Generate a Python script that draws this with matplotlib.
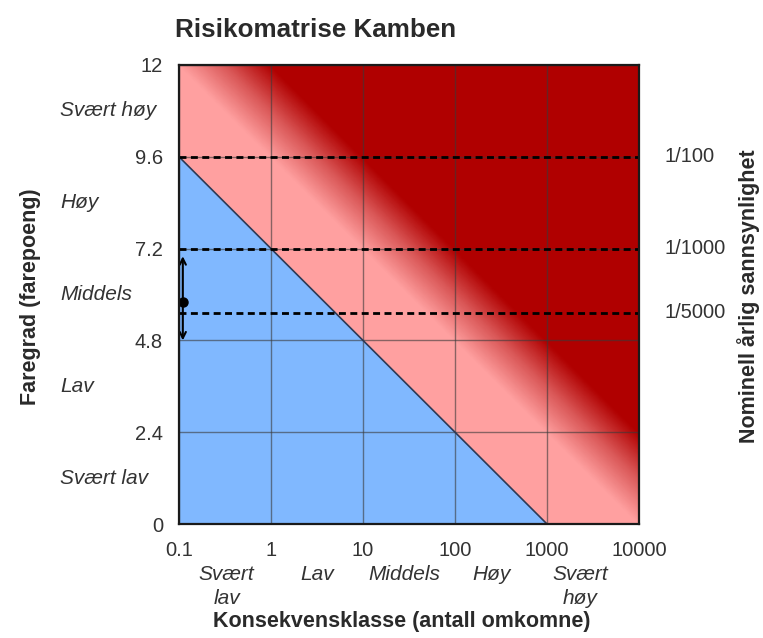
import numpy as np
import matplotlib
matplotlib.use('Agg')
import matplotlib.pyplot as plt
from matplotlib.colors import LinearSegmentedColormap
from matplotlib.ticker import NullLocator
import matplotlib.transforms as mtransforms

plt.rcParams['font.family'] = ['Liberation Sans', 'DejaVu Sans']

# ---------------- data ----------------
title = "Risikomatrise Kamben"
x_decades = [0.1, 1, 10, 100, 1000, 10000]
x_tick_labels = ["0.1", "1", "10", "100", "1000", "10000"]
x_categories = ["Svært\nlav", "Lav", "Middels", "Høy", "Svært\nhøy"]
x_category_pos = [0.33, 3.2, 28, 250, 2300]

y_ticks = [0, 2.4, 4.8, 7.2, 9.6, 12]
y_tick_labels = ["0", "2.4", "4.8", "7.2", "9.6", "12"]
y_categories = ["Svært lav", "Lav", "Middels", "Høy", "Svært høy"]
y_category_pos = [1.2, 3.6, 6.0, 8.4, 10.8]

prob_labels = ["1/100", "1/1000", "1/5000"]
prob_levels = [9.6, 7.2, 5.52]

# acceptance boundary (straight line in log-x)
boundary_x = [0.1, 1000]
boundary_y = [9.6, 0.0]
# gradient band levels (value of the line at x = 1)
gradient_start_level = 9.6
gradient_end_level = 12.0

# assessed point with uncertainty range
point_x = 0.11
point_y = 5.8
range_low = 4.8
range_high = 7.0

xlabel = "Konsekvensklasse (antall omkomne)"
ylabel = "Faregrad (farepoeng)"
rlabel = "Nominell årlig sannsynlighet"

# ---------------- colours ----------------
blue = "#80b8ff"
pink = "#ffa0a0"
dark_red = "#b00000"
text_col = "#2a2a2a"

W, H = 763, 638
fig = plt.figure(figsize=(W / 100, H / 100), dpi=100)
ax = fig.add_axes([179 / W, 1 - 524 / H, 460 / W, 459 / H])
ax.set_xscale('log')
ax.set_xlim(x_decades[0], x_decades[-1])
ax.set_ylim(y_ticks[0], y_ticks[-1])

# slope of boundary (y units per decade)
slope = (boundary_y[0] - boundary_y[1]) / (np.log10(boundary_x[1]) - np.log10(boundary_x[0]))

# gradient background (pink -> dark red)
u = np.linspace(np.log10(x_decades[0]), np.log10(x_decades[-1]), 401)
yy = np.linspace(y_ticks[0], y_ticks[-1], 401)
U, Y = np.meshgrid(u, yy)
D = Y + slope * U
T = np.clip((D - gradient_start_level) / (gradient_end_level - gradient_start_level), 0, 1)
cmap = LinearSegmentedColormap.from_list("risk", [pink, "#da5858", dark_red])
ax.pcolormesh(10 ** U, Y, T, cmap=cmap, vmin=0, vmax=1, shading='gouraud', zorder=0)

# acceptable (blue) region
ax.fill_between(boundary_x, boundary_y, 0, color=blue, lw=0, zorder=1)
ax.plot(boundary_x, boundary_y, color="#2d3a55", lw=1.2, zorder=3)

# grid
ax.xaxis.set_minor_locator(NullLocator())
ax.set_xticks(x_decades)
ax.set_xticklabels(x_tick_labels)
ax.set_yticks(y_ticks)
ax.set_yticklabels(y_tick_labels)
ax.set_axisbelow(False)
ax.grid(True, color="#3a3a3a", alpha=0.6, lw=1.0)
ax.tick_params(length=0, labelsize=14.5, labelcolor="#333333")
ax.tick_params(axis='x', pad=12)
ax.tick_params(axis='y', pad=11.5)

# dashed probability lines
for lv in prob_levels:
    ax.axhline(lv, color="black", lw=2.0, ls=(0, (2.5, 1.6)), zorder=4)

# right side probability labels
trans_r = mtransforms.blended_transform_factory(ax.transAxes, ax.transData)
for lab, lv in zip(prob_labels, prob_levels):
    ax.text(1 + 26 / 460, lv, lab, transform=trans_r, ha='left', va='center',
            fontsize=14.5, color="#333333")

# left side category labels
for lab, pos in zip(y_categories, y_category_pos):
    ax.text(-119 / 460, pos, lab, transform=trans_r, ha='left', va='center',
            fontsize=15, style='italic', color="#333333")

# bottom category labels
trans_b = mtransforms.blended_transform_factory(ax.transData, ax.transAxes)
for lab, pos in zip(x_categories, x_category_pos):
    ax.text(pos, -41 / 459, lab, transform=trans_b, ha='center', va='top',
            fontsize=15, style='italic', color="#333333", linespacing=1.3)

# point with uncertainty arrow
ax.annotate('', xy=(point_x, range_low), xytext=(point_x, range_high),
            arrowprops=dict(arrowstyle='<->', lw=1.5, color='black',
                            mutation_scale=11, shrinkA=0, shrinkB=0),
            annotation_clip=False, zorder=6)
ax.plot([point_x], [point_y], 'o', color='black', ms=6.5, zorder=7, clip_on=False)

for s in ax.spines.values():
    s.set_color("#1a1a1a")
    s.set_linewidth(1.6)
    s.set_zorder(8)

# axis titles
fig.text(175 / W, 1 - 30 / H, title, ha='left', va='center', fontsize=18.7,
         fontweight='bold', color=text_col)
fig.text(402 / W, 1 - 622 / H, xlabel, ha='center', va='center', fontsize=15.5,
         fontweight='bold', color=text_col)
fig.text(31 / W, 1 - 297 / H, ylabel, ha='center', va='center', fontsize=15.5,
         fontweight='bold', color=text_col, rotation=90)
fig.text(749 / W, 1 - 296 / H, rlabel, ha='center', va='center', fontsize=15.5,
         fontweight='bold', color=text_col, rotation=90)

fig.savefig("out.png", dpi=100, facecolor='white')
